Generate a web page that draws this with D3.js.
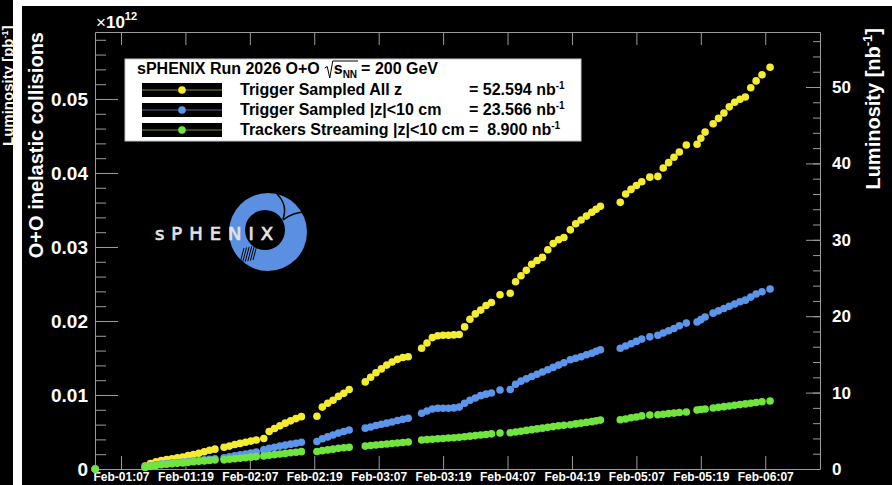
<!DOCTYPE html>
<html>
<head>
<meta charset="utf-8">
<script src="https://cdn.jsdelivr.net/npm/d3@7"></script>
<style>
  body { margin: 0; background: #000; }
  svg { display: block; }
  text { font-family: "Liberation Sans", Arial, sans-serif; font-weight: bold; }
</style>
</head>
<body>
<svg id="chart" width="892" height="485"></svg>
<script>
'use strict';

// hours after Feb-01 07:00, one entry per point (shared by all three series)
const hours = [-4.8,
    4.5, 5.5, 6.5, 7.5, 8.5, 9.5, 10.5,
    11.5, 12.5, 13.5, 14.5, 15.5, 16.5, 17.5,
    19.2, 20.2, 21.2, 22.2, 23.2, 24.2, 25.2,
    26.6, 27.6, 28.6, 29.6, 30.6, 31.6, 32.6, 33.6,
    36.5, 37.5, 38.5, 39.5, 40.5, 41.5, 42.5,
    45.5, 46.5, 47.5, 48.5, 49.5, 50.5, 51.5, 52.5, 53.5,
    56, 57, 58, 59, 60, 61, 62, 63, 64, 65, 66, 67, 68, 69, 70.6,
    72.5, 73.5, 74.5, 75.5, 76.5, 77.5, 78.5, 79.5, 80.5, 81.5, 82.5,
    83.7, 84.7, 85.7, 86.7, 87.7, 88.5, 89.3,
    93, 94, 95, 96, 97, 98.5,
    100, 101, 102, 103, 104, 105.3,
    107.3, 108, 108.8,
    110.3, 111.3, 112.3, 113.3, 114.3, 115.3, 116.3, 117.3, 118.3, 119.4, 120.9];

// integrated luminosity [nb^-1]
const allZ = [0,
    0.4, 0.7, 0.95, 1.1, 1.25, 1.35, 1.45,
    1.55, 1.75, 1.9, 2.05, 2.25, 2.45, 2.6,
    2.85, 3.0, 3.2, 3.35, 3.5, 3.65, 3.8,
    4.0, 4.9, 5.3, 5.65, 6.0, 6.3, 6.6, 6.85,
    6.9, 8.1, 8.6, 9.0, 9.5, 9.9, 10.4,
    11.4, 12.0, 12.6, 13.1, 13.6, 14.0, 14.35, 14.6, 14.7,
    15.8, 16.5, 17.2, 17.45, 17.5, 17.5, 17.55, 17.6, 18.6, 19.6, 20.3, 20.8, 21.4, 21.8, 22.8,
    23.0, 24.5, 25.3, 26.0, 26.8, 27.3, 27.7, 28.7, 29.5, 30.0, 30.3,
    31.3, 32.1, 32.6, 33.1, 33.6, 34.0, 34.4,
    34.9, 36.0, 36.6, 37.1, 37.6, 38.2,
    38.3, 39.4, 40.1, 40.8, 41.5, 42.4,
    42.5, 43.3, 44.1,
    45.2, 45.9, 46.6, 47.4, 48.0, 48.4, 48.7, 49.9, 50.8, 51.6, 52.594];

const z10 = [0,
    0.25, 0.42, 0.55, 0.65, 0.72, 0.8, 0.85,
    0.9, 0.98, 1.05, 1.12, 1.2, 1.28, 1.35,
    1.45, 1.6, 1.72, 1.85, 1.97, 2.1, 2.22,
    2.5, 2.7, 2.85, 3.0, 3.12, 3.25, 3.38, 3.5,
    3.6, 3.95, 4.2, 4.45, 4.7, 4.9, 5.1,
    5.35, 5.5, 5.7, 5.85, 6.0, 6.15, 6.35, 6.5, 6.65,
    7.3, 7.6, 7.85, 7.95, 7.95, 7.95, 8.0, 8.1, 8.6, 9.0, 9.3, 9.6, 9.8, 9.95, 10.35,
    10.4, 11.1, 11.5, 11.8, 12.1, 12.4, 12.7, 13.0, 13.3, 13.6, 13.9,
    14.3, 14.5, 14.7, 14.95, 15.15, 15.4, 15.6,
    15.8, 16.1, 16.4, 16.7, 17.0, 17.3,
    17.5, 17.8, 18.1, 18.4, 18.75, 19.1,
    19.25, 19.55, 19.9,
    20.4, 20.7, 21.0, 21.3, 21.6, 21.9, 22.1, 22.5, 22.9, 23.2, 23.566];

const streaming = [0,
    0.2, 0.35, 0.45, 0.55, 0.62, 0.7, 0.75,
    0.8, 0.87, 0.94, 1.0, 1.06, 1.12, 1.18,
    1.2, 1.27, 1.34, 1.41, 1.48, 1.55, 1.62,
    1.7, 1.8, 1.88, 1.96, 2.04, 2.12, 2.2, 2.27,
    2.3, 2.4, 2.5, 2.6, 2.7, 2.78, 2.85,
    3.0, 3.07, 3.14, 3.2, 3.27, 3.33, 3.4, 3.47, 3.53,
    3.8, 3.85, 3.9, 3.95, 4.0, 4.05, 4.1, 4.15, 4.22, 4.3, 4.37, 4.45, 4.52, 4.6, 4.72,
    4.75, 4.85, 4.95, 5.05, 5.15, 5.25, 5.35, 5.45, 5.55, 5.65, 5.72,
    5.8, 5.9, 6.0, 6.1, 6.2, 6.3, 6.4,
    6.45, 6.55, 6.7, 6.8, 6.95, 7.07,
    7.1, 7.17, 7.25, 7.32, 7.4, 7.47,
    7.72, 7.78, 7.85,
    7.98, 8.07, 8.16, 8.25, 8.34, 8.43, 8.52, 8.6, 8.7, 8.8, 8.9];

const seriesNames = ['Trigger Sampled All z', 'Trigger Sampled |z|<10 cm', 'Trackers Streaming |z|<10 cm'];
const seriesColours = ['#f4ec30', '#5b95ec', '#70e53e'];
const legendLineColours = ['#8c8a3a', '#4d6f9e', '#7f8d3a'];

const xTickHours = [0, 12, 24, 36, 48, 60, 72, 84, 96, 108, 120];
const lumiTicks = [0, 10, 20, 30, 40, 50];
const collTicks = [0, 0.01, 0.02, 0.03, 0.04, 0.05];

const t0 = Date.UTC(2026, 1, 1, 7);
const toDate = h => new Date(t0 + h * 3600e3);

const svg = d3.select('#chart');
const padLeft = 95, padRight = 820, padTop = 32, padBottom = 469;
const axisColour = '#9c9c9c';

// title of the neighbouring panel, then the white strips of the screenshot
const cutTitle = svg.append('text')
    .attr('transform', 'translate(13,146) rotate(-90)')
    .attr('fill', '#fff').attr('font-size', 15);
cutTitle.append('tspan').text('Luminosity [pb');
cutTitle.append('tspan').attr('font-size', 9).attr('dy', -5).text('-1');
cutTitle.append('tspan').attr('dy', 5).text(']');
svg.append('rect').attr('x', 13).attr('y', 0).attr('width', 9).attr('height', 485).attr('fill', '#fff');
svg.append('rect').attr('x', 13).attr('y', 0).attr('width', 879).attr('height', 6).attr('fill', '#fff');

const x = d3.scaleUtc().domain([toDate(-4.84), toDate(130.2)]).range([padLeft, padRight]);
const yLumi = d3.scaleLinear().domain([0, 57.2]).range([padBottom, padTop]);
const yColl = d3.scaleLinear().domain([0, 0.05905]).range([padBottom, padTop]);

function styleAxis(g, size) {
    g.selectAll('path, line').attr('stroke', axisColour);
    g.selectAll('text').attr('fill', '#fff').attr('font-size', size)
        .style('font-family', '"Liberation Sans", Arial, sans-serif').style('font-weight', 'bold');
}

// x axes
svg.append('g').attr('transform', `translate(0,${padBottom})`)
    .call(d3.axisBottom(x).tickValues(xTickHours.map(toDate)).tickSizeInner(-13).tickSizeOuter(0)
        .tickPadding(3).tickFormat(d3.utcFormat('%b-%d:%H')))
    .call(g => styleAxis(g, 12));
svg.append('g').attr('transform', `translate(0,${padTop})`)
    .call(d3.axisTop(x).tickValues(xTickHours.map(toDate)).tickSizeInner(-13).tickSizeOuter(0).tickFormat(''))
    .call(g => styleAxis(g, 12));

// left axis: collisions
svg.append('g').attr('transform', `translate(${padLeft},0)`)
    .call(d3.axisLeft(yColl).tickValues(collTicks).tickSizeInner(-23).tickSizeOuter(0).tickPadding(7)
        .tickFormat(d => d === 0 ? '0' : d.toFixed(2)))
    .call(g => styleAxis(g, 19));
svg.append('g').attr('transform', `translate(${padLeft},0)`)
    .call(d3.axisLeft(yColl).tickValues(d3.range(1, 30).map(i => i * 0.002)).tickSize(-11).tickFormat(''))
    .call(g => g.select('.domain').remove())
    .call(g => styleAxis(g, 19));

// right axis: luminosity
svg.append('g').attr('transform', `translate(${padRight},0)`)
    .call(d3.axisRight(yLumi).tickValues(lumiTicks).tickSizeInner(-14).tickSizeOuter(0).tickPadding(12))
    .call(g => styleAxis(g, 17));
svg.append('g').attr('transform', `translate(${padRight},0)`)
    .call(d3.axisRight(yLumi).tickValues(d3.range(1, 29).map(i => i * 2)).tickSize(-7).tickFormat(''))
    .call(g => g.select('.domain').remove())
    .call(g => styleAxis(g, 17));

// axis titles
svg.append('text')
    .attr('transform', `translate(43,${padTop}) rotate(-90)`)
    .attr('text-anchor', 'end').attr('fill', '#fff').attr('font-size', 20)
    .text('O+O inelastic collisions');
const rTitle = svg.append('text')
    .attr('transform', 'translate(880,28) rotate(-90)')
    .attr('text-anchor', 'end').attr('fill', '#fff').attr('font-size', 20);
rTitle.append('tspan').text('Luminosity [nb');
rTitle.append('tspan').attr('font-size', 13).attr('dy', -8).text('-1');
rTitle.append('tspan').attr('dy', 8).text(']');

const mult = svg.append('text').attr('x', 96).attr('y', 28).attr('fill', '#fff').attr('font-size', 17);
mult.append('tspan').style('font-weight', 'normal').text('\u00d7');
mult.append('tspan').text('10');
mult.append('tspan').attr('font-size', 11).attr('dy', -8).text('12');

// sPHENIX logo
const logo = svg.append('g');
logo.append('circle').attr('cx', 268).attr('cy', 232).attr('r', 39).attr('fill', '#5b8fe2');
logo.append('circle').attr('cx', 265).attr('cy', 230).attr('r', 20).attr('fill', '#000');
logo.append('path').attr('d', 'M277,194 Q288,205 283,219').attr('stroke', '#000').attr('stroke-width', 1.5).attr('fill', 'none');
logo.append('path').attr('d', 'M306,212 Q293,212 283,220').attr('stroke', '#000').attr('stroke-width', 1.5).attr('fill', 'none');
d3.range(6).forEach(i => {
    logo.append('line')
        .attr('x1', 240 + i * 2.6).attr('y1', 263 - i * 0.6)
        .attr('x2', 244 + i * 2.6).attr('y2', 248 - i * 0.6)
        .attr('stroke', '#000').attr('stroke-width', 1);
});
logo.append('text')
    .attr('x', 155).attr('y', 240)
    .attr('textLength', 118).attr('lengthAdjust', 'spacing')
    .attr('fill', '#e4e4e4').attr('stroke', '#e4e4e4').attr('stroke-width', 0.7).attr('font-size', 18)
    .style('font-family', '"DejaVu Sans", sans-serif').style('font-weight', 'normal')
    .text('sPHENIX');

// points
const series = [allZ, z10, streaming].map((values, i) => ({
    name: seriesNames[i],
    colour: seriesColours[i],
    points: hours.map((h, j) => ({ t: toDate(h), v: values[j] }))
}));

series.forEach(s => {
    svg.append('g').selectAll('circle')
        .data(s.points)
        .enter()
        .append('circle')
        .attr('cx', d => x(d.t))
        .attr('cy', d => yLumi(d.v))
        .attr('r', 3.8)
        .attr('fill', s.colour);
});

// legend
const legend = svg.append('g');
legend.append('rect').attr('x', 125).attr('y', 59).attr('width', 456).attr('height', 82)
    .attr('fill', '#fff').attr('stroke', '#c8c8c8');

const titleA = legend.append('text').attr('x', 137).attr('y', 74).attr('fill', '#000').attr('font-size', 16)
    .text('sPHENIX Run 2026 O+O');
const ax = 137 + titleA.node().getComputedTextLength() + 5;
const sqrtText = legend.append('text').attr('x', ax + 9).attr('y', 74).attr('fill', '#000').attr('font-size', 16);
sqrtText.append('tspan').text('s');
sqrtText.append('tspan').attr('font-size', 10).attr('dy', 4).text('NN');
const sw = sqrtText.node().getComputedTextLength();
legend.append('path')
    .attr('d', `M${ax},68 L${ax + 2.5},66.5 L${ax + 5},78 L${ax + 8},61 L${ax + 9 + sw + 1},61`)
    .attr('stroke', '#000').attr('stroke-width', 1).attr('fill', 'none');
legend.append('text').attr('x', ax + 9 + sw + 4).attr('y', 74).attr('fill', '#000').attr('font-size', 16)
    .text('= 200 GeV');

series.forEach((s, i) => {
    const cy = 90 + i * 20;
    legend.append('rect').attr('x', 142).attr('y', cy - 7).attr('width', 80).attr('height', 14).attr('fill', '#000');
    legend.append('line').attr('x1', 142).attr('x2', 222).attr('y1', cy).attr('y2', cy)
        .attr('stroke', legendLineColours[i]).attr('stroke-width', 1);
    legend.append('circle').attr('cx', 182).attr('cy', cy).attr('r', 3.8).attr('fill', s.colour);
    const label = legend.append('text').attr('x', 240).attr('y', cy + 5).attr('fill', '#000')
        .attr('font-size', 16).text(s.name);
    const labelEnd = 240 + label.node().getComputedTextLength();
    const last = s.points[s.points.length - 1].v;
    const vt = legend.append('text').attr('x', Math.max(469, labelEnd + 4)).attr('y', cy + 5).attr('fill', '#000')
        .attr('font-size', 16).style('white-space', 'pre');
    vt.append('tspan').text('= ' + (last < 10 ? ' ' : '') + last.toFixed(3) + ' nb');
    vt.append('tspan').attr('font-size', 10).attr('dy', -6).text('-1');
});
</script>
</body>
</html>
